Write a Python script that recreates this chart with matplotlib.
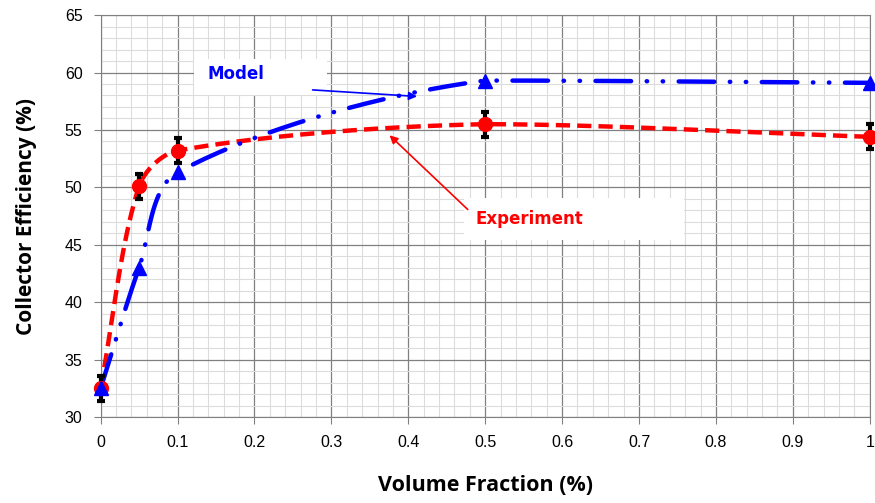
import numpy as np
import matplotlib.pyplot as plt
from matplotlib.ticker import MultipleLocator
from matplotlib.patches import Rectangle

# data
vol_frac = [0, 0.05, 0.1, 0.5, 1.0]
model_eff = [32.5, 43.0, 51.3, 59.3, 59.1]
exp_eff = [32.5, 50.1, 53.2, 55.5, 54.4]
exp_err = [1.1, 1.1, 1.1, 1.1, 1.1]
x_ticks = [0, 0.1, 0.2, 0.3, 0.4, 0.5, 0.6, 0.7, 0.8, 0.9, 1.0]
x_tick_labels = ['0', '0.1', '0.2', '0.3', '0.4', '0.5', '0.6', '0.7', '0.8', '0.9', '1']


def smooth(x, y, sx=769.0, sy=11.49, n=40, k=0.3):
    # smoothed line through the points (Bezier, no overshoot past the segment ends)
    p = np.column_stack([np.asarray(x) * sx, np.asarray(y) * sy])
    m = len(p)
    tang = []
    for i in range(m):
        d = p[min(i + 1, m - 1)] - p[max(i - 1, 0)]
        tang.append(d / np.linalg.norm(d))
    out = []
    for i in range(m - 1):
        p1, p2 = p[i], p[i + 1]
        L = np.linalg.norm(p2 - p1)
        lo, hi = np.minimum(p1, p2), np.maximum(p1, p2)
        c1 = np.clip(p1 + tang[i] * L * k, lo, hi)
        c2 = np.clip(p2 - tang[i + 1] * L * k, lo, hi)
        t = np.linspace(0, 1, n)[:, None]
        seg = (1 - t) ** 3 * p1 + 3 * (1 - t) ** 2 * t * c1 + 3 * (1 - t) * t ** 2 * c2 + t ** 3 * p2
        out.append(seg if i == 0 else seg[1:])
    out = np.vstack(out)
    return out[:, 0] / sx, out[:, 1] / sy


fig = plt.figure(figsize=(8.75, 5.03), dpi=100)
ax = fig.add_axes([0.115, 0.171, 0.879, 0.799])

# grid
ax.set_xlim(0, 1)
ax.set_ylim(30, 65)
ax.set_xticks(x_ticks)
ax.set_xticklabels(x_tick_labels)
ax.xaxis.set_minor_locator(MultipleLocator(0.02))
ax.yaxis.set_major_locator(MultipleLocator(5))
ax.yaxis.set_minor_locator(MultipleLocator(1))
ax.grid(which='minor', color='#dcdcdc', lw=0.8)
ax.grid(which='major', color='#808080', lw=0.9)
ax.set_axisbelow(True)
ax.tick_params(which='minor', length=0)
ax.tick_params(which='major', length=5, color='#808080', labelsize=11.5, pad=8)
for s in ax.spines.values():
    s.set_color('#808080')
for lab in ax.get_xticklabels() + ax.get_yticklabels():
    lab.set_fontfamily('Liberation Sans')

# white label boxes
ax.add_patch(Rectangle((0.122, 58.0), 0.172, 3.2, facecolor='white', edgecolor='none', zorder=2))
ax.add_patch(Rectangle((0.473, 45.4), 0.286, 3.7, facecolor='white', edgecolor='none', zorder=2))

# experiment
xs, ys = smooth(vol_frac, exp_eff)
ax.plot(xs, ys, color='#ff0000', lw=3.2, ls=(0, (3.2, 1.6)), zorder=3)
ax.errorbar(vol_frac, exp_eff, yerr=exp_err, fmt='none', ecolor='black',
            elinewidth=3, capsize=3, capthick=3, zorder=4, clip_on=False)
ax.plot(vol_frac, exp_eff, 'o', color='#ff0000', ms=10, zorder=5, clip_on=False)

# model
xs, ys = smooth(vol_frac, model_eff)
ax.plot(xs, ys, color='#0000ff', lw=3.2, ls=(0, (8, 3.5, 0.1, 3.5, 0.1, 3.5)),
        dash_capstyle='round', zorder=3)
ax.plot(vol_frac, model_eff, '^', color='#0000ff', ms=10, zorder=5, clip_on=False)

# annotations
ax.annotate('', xy=(0.415, 57.9), xytext=(0.272, 58.5), zorder=6,
            arrowprops=dict(arrowstyle='-|>', color='#0000ff', lw=1.2, mutation_scale=12))
ax.text(0.139, 59.9, 'Model', color='#0000ff', fontsize=12, fontweight='bold',
        va='center', ha='left', zorder=6)
ax.annotate('', xy=(0.373, 54.7), xytext=(0.480, 47.9), zorder=6,
            arrowprops=dict(arrowstyle='-|>', color='#ff0000', lw=1.2, mutation_scale=12))
ax.text(0.487, 47.2, 'Experiment', color='#ff0000', fontsize=12, fontweight='bold',
        va='center', ha='left', zorder=6)

ax.set_xlabel('Volume Fraction (%)', fontsize=15.5, fontweight='bold',
              fontfamily='Open Sans', labelpad=18)
ax.set_ylabel('Collector Efficiency (%)', fontsize=15, fontweight='bold',
              fontfamily='Open Sans', labelpad=20)

fig.savefig('out.png', dpi=100)
